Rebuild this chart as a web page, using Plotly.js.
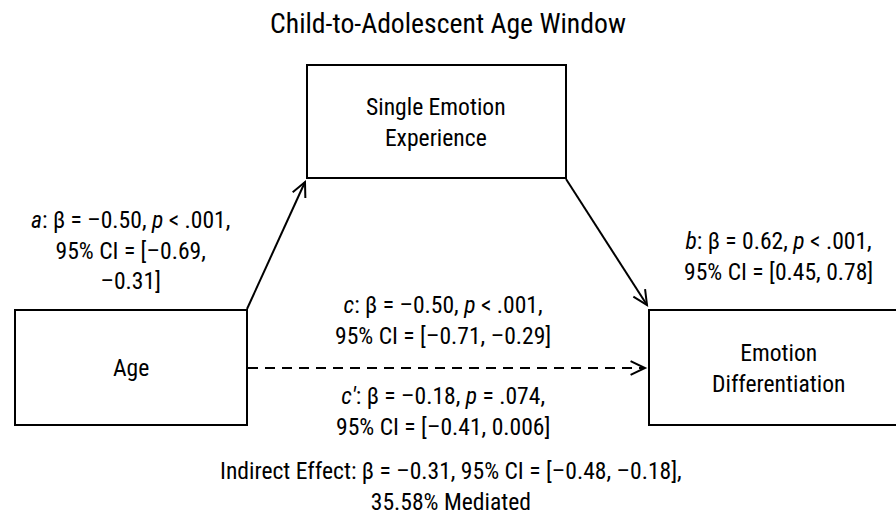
<!DOCTYPE html>
<html><head><meta charset="utf-8">
<script src="https://cdn.plot.ly/plotly-3.0.1.min.js"></script>
<style>html,body{margin:0;padding:0;background:#fff}#chart{width:896px;height:519px}</style>
</head><body><div id="chart"></div>
<script>
// ---- data ----
const titleText = 'Child-to-Adolescent Age Window';
const nodeNames = ['Age', 'Single Emotion<br>Experience', 'Emotion<br>Differentiation'];
const pathNames = ['a', 'b', 'c', "c′"];
const pathBeta = [-0.50, 0.62, -0.50, -0.18];
const pathPOp = ['<', '<', '<', '='];
const pathP = ['.001', '.001', '.001', '.074'];
const pathCILow = ['-0.69', '0.45', '-0.71', '-0.41'];
const pathCIHigh = ['-0.31', '0.78', '-0.29', '0.006'];
const indirectBeta = -0.31;
const indirectCI = ['-0.48', '-0.18'];
const pctMediated = '35.58';

// ---- helpers ----
const dash = s => String(s).replace('-', '–');
const fmt = v => dash(v.toFixed(2));
const FONT = 'Liberation Sans Narrow, Arial Narrow, Roboto Condensed, Liberation Sans, Arial, sans-serif';
const FS = 23.6;

function pathText(i, wrap) {
  const head = '<i>' + pathNames[i] + '</i>: β = ' + fmt(pathBeta[i]) + ', <i>p</i> ' + pathPOp[i] + ' ' + pathP[i] + ',';
  const ci = '95% CI = [' + dash(pathCILow[i]) + ', ' + dash(pathCIHigh[i]) + ']';
  if (wrap) return head + '<br>95% CI = [' + dash(pathCILow[i]) + ',<br>' + dash(pathCIHigh[i]) + ']';
  return head + '<br>' + ci;
}

// ---- layout geometry ----
const boxes = [
  {x0: 15, x1: 247, y0: 310, y1: 425},   // Age
  {x0: 307, x1: 566, y0: 65, y1: 178},   // Mediator
  {x0: 649, x1: 900, y0: 310, y1: 425}   // Outcome
];
const labelPos = [[131, 368], [436, 122], [778, 368]];
const shapes = [];
const annotations = [];
const tf = {family: FONT, size: FS, color: '#000'};
boxes.forEach((b, i) => {
  shapes.push({type: 'rect', xref: 'x', yref: 'y', x0: b.x0, x1: b.x1, y0: b.y0, y1: b.y1,
    line: {color: '#000', width: 2}, fillcolor: 'rgba(0,0,0,0)'});
  annotations.push({x: labelPos[i][0], y: labelPos[i][1], xref: 'x', yref: 'y', text: nodeNames[i],
    showarrow: false, font: tf, align: 'center'});
});

function arrow(x0, y0, x1, y1, dashed) {
  shapes.push({type: 'line', xref: 'x', yref: 'y', x0: x0, y0: y0, x1: x1, y1: y1,
    line: {color: '#000', width: 2, dash: dashed ? '10px,7px' : 'solid'}});
  const ang = Math.atan2(y1 - y0, x1 - x0);
  const L = 16, spread = 0.45;
  const p1 = [x1 - L * Math.cos(ang - spread), y1 - L * Math.sin(ang - spread)];
  const p2 = [x1 - L * Math.cos(ang + spread), y1 - L * Math.sin(ang + spread)];
  shapes.push({type: 'path', xref: 'x', yref: 'y',
    path: `M${p1[0]},${p1[1]} L${x1},${y1} L${p2[0]},${p2[1]}`,
    line: {color: '#000', width: 2}});
}
arrow(247, 309, 305, 182, false);
arrow(566, 179, 647, 305, false);
arrow(248, 368, 645, 368, true);

annotations.push({x: 130, y: 250, xref: 'x', yref: 'y', text: pathText(0, true), showarrow: false, font: tf, align: 'center'});
annotations.push({x: 778, y: 256, xref: 'x', yref: 'y', text: pathText(1, false), showarrow: false, font: tf, align: 'center'});
annotations.push({x: 443, y: 320, xref: 'x', yref: 'y', text: pathText(2, false), showarrow: false, font: tf, align: 'center'});
annotations.push({x: 443, y: 411, xref: 'x', yref: 'y', text: pathText(3, false), showarrow: false, font: tf, align: 'center'});
annotations.push({x: 451, y: 486, xref: 'x', yref: 'y',
  text: 'Indirect Effect: β = ' + fmt(indirectBeta) + ', 95% CI = [' + dash(indirectCI[0]) + ', ' + dash(indirectCI[1]) + '],<br>' + pctMediated + '% Mediated',
  showarrow: false, font: tf, align: 'center'});

const layout = {
  width: 896, height: 519,
  margin: {l: 0, r: 0, t: 0, b: 0},
  paper_bgcolor: '#fff', plot_bgcolor: '#fff',
  title: {text: titleText, x: 0.5, xanchor: 'center', y: 0.955, yanchor: 'middle', font: {family: FONT, size: 27.7, color: '#000'}},
  xaxis: {range: [0, 896], visible: false, fixedrange: true},
  yaxis: {range: [519, 0], visible: false, fixedrange: true},
  shapes: shapes, annotations: annotations, showlegend: false
};
Plotly.newPlot('chart', [{x: [], y: [], type: 'scatter'}], layout, {staticPlot: true});
</script></body></html>
